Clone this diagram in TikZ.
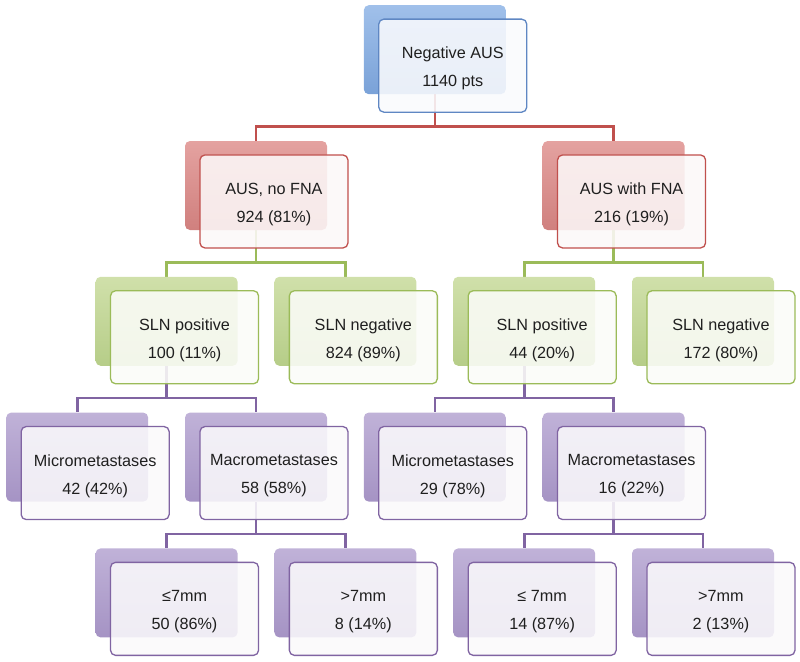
\documentclass[tikz,border=0pt]{standalone}
\usepackage{fontspec}
\setmainfont{Liberation Sans}
\usetikzlibrary{backgrounds}
\definecolor{bB}{RGB}{95,135,195}
\definecolor{bR}{RGB}{192,80,77}
\definecolor{bG}{RGB}{155,187,89}
\definecolor{bP}{RGB}{128,100,162}
\definecolor{tB}{RGB}{160,192,234}
\definecolor{dB}{RGB}{122,162,216}
\definecolor{tR}{RGB}{228,162,160}
\definecolor{dR}{RGB}{208,128,126}
\definecolor{tG}{RGB}{208,224,170}
\definecolor{dG}{RGB}{182,205,136}
\definecolor{tP}{RGB}{192,178,216}
\definecolor{dP}{RGB}{165,147,196}
\tikzset{
  backbox/.style n args={2}{rectangle, rounded corners=5pt, minimum width=142pt, minimum height=89pt,
    anchor=north west, top color=#1, bottom color=#2, draw=none, inner sep=0pt},
  frontbox/.style={rectangle, rounded corners=5pt, minimum width=148pt, minimum height=93pt,
    anchor=north west, line width=1.3pt, draw=#1, fill=#1!4!white, fill opacity=0.88, inner sep=0pt},
  boxtext/.style={align=center, inner sep=0pt, font=\fontsize{16.2}{28}\selectfont, text=black!88},
  conn/.style={line width=2.6pt, draw=#1},
}
\newcommand{\boxpair}[6]{% name, x, y, colorletter, line1, line2
  \node[backbox={t#4}{d#4}] (#1b) at (#2,#3) {};
  \node[frontbox=b#4] (#1) at (#2+14.5,#3+13.5) {};
  \node[boxtext] (#1t) at ([yshift=-3pt]#1.center) {#5\\#6};
}
\begin{document}
\begin{tikzpicture}[x=1pt,y=-1pt]
\useasboundingbox (0,0) rectangle (800,661);
% level 0
\boxpair{n0}{363.6}{5}{B}{Negative AUS}{1140 pts}
% level 1
\boxpair{a1}{184.8}{140.8}{R}{AUS, no FNA}{924 (81\%)}
\boxpair{a2}{542.4}{140.8}{R}{AUS with FNA}{216 (19\%)}
% level 2
\boxpair{s1}{95.4}{276.6}{G}{SLN positive}{100 (11\%)}
\boxpair{s2}{274.2}{276.6}{G}{SLN negative}{824 (89\%)}
\boxpair{s3}{453}{276.6}{G}{SLN positive}{44 (20\%)}
\boxpair{s4}{631.8}{276.6}{G}{SLN negative}{172 (80\%)}
% level 3
\boxpair{m1}{6}{412.4}{P}{Micrometastases}{42 (42\%)}
\boxpair{m2}{184.8}{412.4}{P}{Macrometastases}{58 (58\%)}
\boxpair{m3}{363.6}{412.4}{P}{Micrometastases}{29 (78\%)}
\boxpair{m4}{542.4}{412.4}{P}{Macrometastases}{16 (22\%)}
% level 4
\boxpair{k1}{95.4}{548.2}{P}{≤7mm}{50 (86\%)}
\boxpair{k2}{274.2}{548.2}{P}{>7mm}{8 (14\%)}
\boxpair{k3}{453}{548.2}{P}{≤ 7mm}{14 (87\%)}
\boxpair{k4}{631.8}{548.2}{P}{>7mm}{2 (13\%)}
\begin{pgfonlayer}{background}
\foreach \c in {a1,a2} \draw[conn=bR] (n0b.south) -- ++(0,32) -| (\c b.north);
\foreach \c in {s1,s2} \draw[conn=bG] (a1b.south) -- ++(0,32) -| (\c b.north);
\foreach \c in {s3,s4} \draw[conn=bG] (a2b.south) -- ++(0,32) -| (\c b.north);
\foreach \c in {m1,m2} \draw[conn=bP] (s1b.south) -- ++(0,32) -| (\c b.north);
\foreach \c in {m3,m4} \draw[conn=bP] (s3b.south) -- ++(0,32) -| (\c b.north);
\foreach \c in {k1,k2} \draw[conn=bP] (m2b.south) -- ++(0,32) -| (\c b.north);
\foreach \c in {k3,k4} \draw[conn=bP] (m4b.south) -- ++(0,32) -| (\c b.north);
\end{pgfonlayer}
\end{tikzpicture}
\end{document}
